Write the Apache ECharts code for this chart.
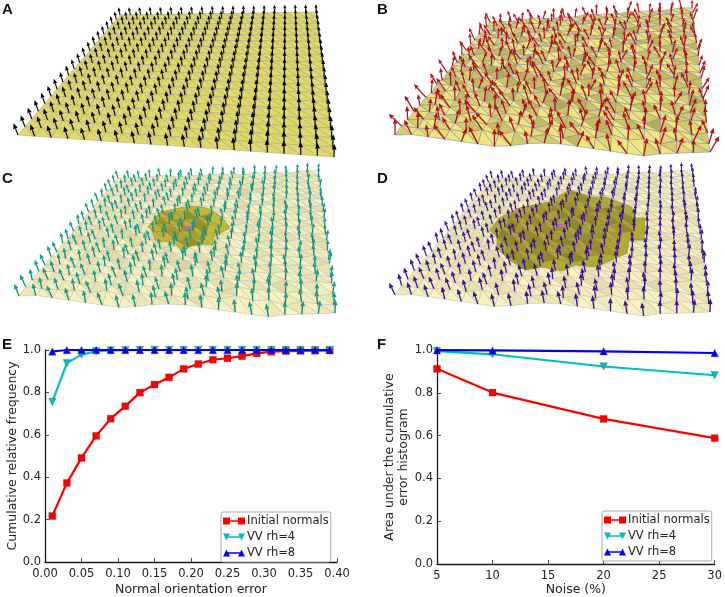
<!DOCTYPE html>
<html><head><meta charset="utf-8">
<script src="https://cdn.jsdelivr.net/npm/echarts@6/dist/echarts.min.js"></script>
<style>html,body{margin:0;padding:0;background:#fff}#c{width:725px;height:597px}</style>
</head><body><div id="c"></div>
<script>
// ---- panel E data
const errorBins=[0.01,0.03,0.05,0.07,0.09,0.11,0.13,0.15,0.17,0.19,0.21,0.23,0.25,0.27,0.29,0.31,0.33,0.35,0.37,0.39];
const eInitial=[0.217,0.373,0.491,0.595,0.676,0.735,0.799,0.837,0.871,0.911,0.934,0.954,0.961,0.971,0.984,0.992,0.995,0.996,0.997,0.998];
const eRh4=[0.755,0.938,0.978,0.994,0.998,0.999,1,1,1,1,1,1,1,1,1,1,1,1,1,1];
const eRh8=[0.993,1,1,1,1,1,1,1,1,1,1,1,1,1,1,1,1,1,1,1];
// ---- panel F data
const noiseLevels=[5,10,20,30];
const fInitial=[0.912,0.801,0.678,0.588];
const fRh4=[0.995,0.98,0.923,0.882];
const fRh8=[0.999,0.998,0.994,0.986];
// ---- meshes A-D: surface height of every vertex (back row first), 5 = flat
const surfaceHeight=[
"55456545465546554565","55565466545665456556","54665446566446547465","65446566446564657446",
"56657445665448566453","64465763457675447566","56463576465347673546","65746456724665465476",
"46465674563765646457","65463767446568456475","56747465673465747465","47465847465674465747",
"65736473658374656465","46657465747465476574","65474756475746465658","56476474749464657464",
"66457475647475637576","56646475364637564635","65554636353647452544","56543212455432102345"];
// initial normals (B): sideways lean and upward reach per vertex
const leanXB=[
"36472864736528465735","63827465193746285649","47291856473829164758","82646375918264735162",
"35718264957361849273","69273548162975348261","28465917362849175364","74183659274816395728",
"46929173648259371846","83175462938174629357","29648371569283746158","64817293465718293647",
"37592846173946285719","82469173582647193568","15738264917352846972","69284715368291746385",
"38471649257481362974","72695138462971358642","18937264895173628497","84629371586924173859"];
const reachB=[
"76867687768678767686","87678768678768767867","68787678867687768678","77686887678876867768",
"86777687868767786877","78687867767886778687","67878768687767868776","86768778767868677887",
"78687667886776867768","67877868678687768876","88676787767878687667","76887678687767886777",
"68767887768678767886","87686767887767868677","76878678767886777687","68767886678768867778",
"87686777868677687867","76778687768867868776","68867767877687778687","87676887678768687767"];
// refined normals: sideways lean per vertex (C: rh=4, D: rh=8)
const leanC=[
"45564655465645564656","56456465546456545645","46545654655465645564","55464565456546456546",
"64556456546455646455","45646545655645546564","56455646456546654545","46564556545645456656",
"55465645646455564546","64546556455646545655","46655464564556456464","55456646455465645546",
"64564555646546456655","45546464555646556446","56655645464555464656","46456556546464655546",
"55645464655546456465","64456556454655646556","46564645565446556445","56456455646565445665"];
const leanD=[
"55455645545655456554","45564556455465545645","55645455564554654555","64555465455645556454",
"45546556545556455546","55654455655445564555","46555645456555465546","55464556545465556455",
"54556445565546445655","65545556455654555464","45655465545455665545","55456554655546454556",
"64555465445655546555","45546556555445654564","55654455465555465545","46555645556454556455",
"55465554465556545564","54556465555645465545","65445556546455556654","45565455654556445565"];
// raised neighbourhoods picked out in C and D (panel units)
const patchC=[[148,62],[160,47],[180,43],[192,41],[207,43],[222,52],[230,63],[213,72],[213,80],[193,78],[183,88],[175,78],[155,75],[152,65]];
const patchD=[[128,65],[137,53],[157,43],[187,37],[207,25],[230,32],[243,32],[270,42],[272,53],[283,53],[282,75],[267,75],[265,88],[250,95],[233,102],[213,100],[200,106],[180,102],[163,105],[147,95],[135,83],[135,72]];
const seedC=[[182,60],[188,62],[194,61],[192,64],[186,64],[182,60]];
const seedD=[[195,60],[201,59],[206,62],[200,63],[195,60]];
// panel corners: back-left, back-right, front-right, front-left
const cornersA=[[120,15],[316,12],[334,157],[18,135]];
const cornersB=[[128,22],[330,8],[348,152],[33,135]];
const cornersC=[[118,13],[318,6],[335,148],[19,131]];
const cornersD=[[130,13],[330,6],[348,147],[33,130]];

const N=20, DEPTH=0.69;
function surfaceMap(q){
  const lerp=(a,b,t)=>[a[0]+(b[0]-a[0])*t,a[1]+(b[1]-a[1])*t];
  return (u,v)=>{const t=DEPTH*v+(1-DEPTH)*v*v;return lerp(lerp(q[0],q[1],u),lerp(q[3],q[2],u),t);};
}
const dig=(t,r,c)=>t[r].charCodeAt(c)-48;
function buildPanel(cfg){
  const H=surfaceMap(cfg.corners), tri=[], arrows=[], verts=[];
  const ytop=(cfg.corners[0][1]+cfg.corners[1][1])/2, ybot=(cfg.corners[2][1]+cfg.corners[3][1])/2;
  const hgt=(r,c)=>cfg.relief*(dig(surfaceHeight,r,c)-5);
  const scale=(y)=>0.6+0.4*Math.min(1,Math.max(0,(y-ytop)/(ybot-ytop)));
  for(let r=0;r<N;r++){verts.push([]);for(let c=0;c<N;c++){
    const p=H(c/(N-1),r/(N-1)),s=scale(p[1]);
    verts[r].push([p[0],p[1]-hgt(r,c)*s,s]);
  }}
  const G=cfg.gain||0;
  for(let r=0;r<N-1;r++)for(let c=0;c<N-1;c++){
    const a=verts[r][c],b=verts[r][c+1],d=verts[r+1][c],e=verts[r+1][c+1];
    const h0=hgt(r,c),h1=hgt(r,c+1),h2=hgt(r+1,c),h3=hgt(r+1,c+1);
    const sh1=0.85+G*((h0-h2)-(h1-h0)*0.6), sh2=0.85+G*((h1-h3)-(h3-h2)*0.6);
    tri.push([a[0],a[1],b[0],b[1],e[0],e[1],sh1]);
    tri.push([a[0],a[1],e[0],e[1],d[0],d[1],sh2]);
  }
  const vx=cfg.corners[1][0]-5, vy=900;
  for(let r=0;r<N;r++)for(let c=0;c<N;c++){
    const [x,y,s]=verts[r][c];
    const len=cfg.len*s, reach=cfg.reach?dig(cfg.reach,r,c)/7:1;
    const dx0=x-vx,dy0=y-vy,dl=Math.hypot(dx0,dy0);
    const lean=cfg.lean?(dig(cfg.lean,r,c)-5)*cfg.leanAmp*s:0;
    arrows.push([x,y,x+dx0/dl*len*reach+lean,y+dy0/dl*len*reach,s]);
  }
  return {tri,arrows};
}
function inside(pt,poly){let o=false;for(let i=0,j=poly.length-1;i<poly.length;j=i++){
  const [xi,yi]=poly[i],[xj,yj]=poly[j];
  if((yi>pt[1])!==(yj>pt[1])&&pt[0]<(xj-xi)*(pt[1]-yi)/(yj-yi)+xi)o=!o;}return o;}
function mix(a,b,t){t=Math.max(0,Math.min(1,t));const f=(s,i)=>parseInt(s.substr(1+2*i,2),16);
  return 'rgb('+[0,1,2].map(i=>Math.round(f(a,i)+(f(b,i)-f(a,i))*t)).join(',')+')';}

const panels=[
 {id:'A',corners:cornersA,relief:0,len:13,light:'#E0D868',dark:'#E0D868',line:'#B0AB80',arrow:'#111111',tip:'#000000'},
 {id:'B',corners:cornersB,relief:1.5,gain:0.1,len:16,reach:reachB,lean:leanXB,leanAmp:2.2,light:'#EFE67E',dark:'#B4AB52',line:'#8A8CA0',arrow:'#A5121C',tip:'#B81018'},
 {id:'C',corners:cornersC,relief:1.5,gain:0.07,len:13.5,lean:leanC,leanAmp:1.6,light:'#F7F2BE',dark:'#D8D199',line:'#C2C1B8',arrow:'#0E8577',tip:'#12A08E',patch:patchC,seed:seedC,pl:'#C2B83A',pd:'#8F8720'},
 {id:'D',corners:cornersD,relief:1.5,gain:0.07,len:13.5,lean:leanD,leanAmp:1.2,light:'#F7F2BE',dark:'#D8D199',line:'#C2C1B8',arrow:'#3A118F',tip:'#3A118F',patch:patchD,seed:seedD,pl:'#B3AA34',pd:'#86801F'}
];
const panelGrids=[{left:0,top:0,width:362,height:165},{left:362,top:0,width:362,height:165},{left:0,top:165,width:362,height:165},{left:362,top:165,width:362,height:165}];

const series=[],grid=[],xAxis=[],yAxis=[];
panels.forEach((p,idx)=>{
  grid.push(panelGrids[idx]);
  xAxis.push({type:'value',show:false,gridIndex:idx,min:0,max:362});
  yAxis.push({type:'value',show:false,gridIndex:idx,min:0,max:165,inverse:true});
  const m=buildPanel(p), base={type:'custom',xAxisIndex:idx,yAxisIndex:idx,silent:true,clip:false,progressive:0,animation:false};
  const triangle=(fill)=>(params,api)=>{
    const pts=[0,2,4].map(k=>api.coord([api.value(k),api.value(k+1)]));
    return {type:'polygon',shape:{points:pts},style:{fill:fill(api.value(6)),stroke:p.line,lineWidth:0.6}};
  };
  series.push(Object.assign({},base,{name:p.id+' mesh',data:m.tri,encode:{x:[0,2,4],y:[1,3,5]},
    renderItem:triangle(s=>mix(p.dark,p.light,s))}));
  if(p.patch){
    series.push(Object.assign({},base,{name:p.id+' patch',data:[[0,0]],encode:{x:0,y:1},
      renderItem:(params,api)=>({type:'polygon',shape:{points:p.patch.map(q=>api.coord(q))},style:{fill:p.pl,stroke:'#8d8628',lineWidth:0.6}})}));
    const facets=m.tri.filter(t=>inside([t[0],t[1]],p.patch)&&inside([t[2],t[3]],p.patch)&&inside([t[4],t[5]],p.patch));
    series.push(Object.assign({},base,{name:p.id+' facets',data:facets,encode:{x:[0,2,4],y:[1,3,5]},
      renderItem:(params,api)=>{
        const pts=[0,2,4].map(k=>api.coord([api.value(k),api.value(k+1)]));
        return {type:'polygon',shape:{points:pts},style:{fill:mix(p.pd,p.pl,api.value(6)-0.2),stroke:'#8f8a50',lineWidth:0.5}};
      }}));
    series.push(Object.assign({},base,{name:p.id+' seed',z:3,data:[[0,0]],encode:{x:0,y:1},
      renderItem:(params,api)=>({type:'polyline',shape:{points:p.seed.map(q=>api.coord(q))},style:{fill:'none',stroke:'#D24FC0',lineWidth:1}})}));
  }
  series.push(Object.assign({},base,{name:p.id+' normals',z:4,data:m.arrows,encode:{x:[0,2],y:[1,3]},
    renderItem:(params,api)=>{
      const a=api.coord([api.value(0),api.value(1)]),b=api.coord([api.value(2),api.value(3)]),s=api.value(4);
      const dx=b[0]-a[0],dy=b[1]-a[1],l=Math.hypot(dx,dy)||1,ux=dx/l,uy=dy/l,hl=Math.min(5*s+0.6,l),hw=2.2*s+0.2;
      const c=[b[0]-ux*hl,b[1]-uy*hl];
      return {type:'group',children:[
        {type:'line',shape:{x1:a[0],y1:a[1],x2:c[0],y2:c[1]},style:{stroke:p.arrow,lineWidth:0.9+0.4*s}},
        {type:'polygon',shape:{points:[b,[c[0]-uy*hw,c[1]+ux*hw],[c[0]+uy*hw,c[1]-ux*hw]]},style:{fill:p.tip}}
      ]};
    }}));
});

// line charts
const FONT='"DejaVu Sans",sans-serif', INK='#222';
function lineAxis(g,cfg){return Object.assign({type:'value',gridIndex:g,splitLine:{show:false},
  axisLine:{show:true,onZero:false,lineStyle:{color:'#1a1a1a',width:1.3}},
  axisTick:{show:true,inside:true,length:4,lineStyle:{color:'#1a1a1a',width:0.8}},
  axisLabel:{color:INK,fontFamily:FONT,fontSize:11.5,margin:4,hideOverlap:false,showMinLabel:true,showMaxLabel:true},
  nameLocation:'middle',nameTextStyle:{color:INK,fontFamily:FONT,fontSize:12.5}},cfg);}
grid.push({left:45,top:350,width:292,height:215},{left:437,top:350,width:280,height:214});
const xLabel=lineAxis(4).axisLabel;
xAxis.push(lineAxis(4,{min:0,max:0.4,interval:0.05,name:'Normal orientation error',nameGap:21,axisLabel:Object.assign({},xLabel,{margin:6,formatter:v=>v.toFixed(2)})}));
xAxis.push(lineAxis(5,{min:5,max:30,interval:5,name:'Noise (%)',nameGap:19,axisLabel:Object.assign({},xLabel,{margin:6})}));
yAxis.push(lineAxis(4,{min:0,max:1,interval:0.2,name:'Cumulative relative frequency',nameGap:22,axisLabel:Object.assign({},xLabel,{formatter:v=>v.toFixed(1)})}));
yAxis.push(lineAxis(5,{min:0,max:1,interval:0.2,name:'Area under the cumulative\nerror histogram',nameGap:18,nameTextStyle:{color:INK,fontFamily:FONT,fontSize:12.5,lineHeight:14},axisLabel:Object.assign({},xLabel,{formatter:v=>v.toFixed(1)})}));
const names=['Initial normals','VV rh=4','VV rh=8'];
const colors=['#FF0000','#00BFBF','#0000FF'];
const syms=['rect','triangle','triangle'];
function addLines(g,xs,sets){sets.forEach((ys,i)=>series.push({type:'line',name:names[i],xAxisIndex:g,yAxisIndex:g,
  data:xs.map((x,k)=>[x,ys[k]]),clip:false,z:5+i,symbol:syms[i],symbolSize:i==0?7:7.5,symbolRotate:i==1?180:0,showSymbol:true,
  lineStyle:{color:colors[i],width:2.2},itemStyle:{color:colors[i],borderColor:'rgba(60,60,60,0.55)',borderWidth:0.5},animation:false}));}
addLines(4,errorBins,[eInitial,eRh4,eRh8]);
addLines(5,noiseLevels,[fInitial,fRh4,fRh8]);
const icons=['path://M0 0H7V2.8H15V0H22V7H15V4.2H7V7H0Z','path://M0 0H7L3.5 7ZM3.5 2.8H18.5V4.2H3.5ZM15 0H22L18.5 7Z','path://M3.5 0L7 7H0ZM3.5 2.8H18.5V4.2H3.5ZM18.5 0L22 7H15Z'];
const legendOf=(left,top)=>({left,top,orient:'vertical',data:names.map((n,i)=>({name:n,icon:icons[i],itemStyle:{color:colors[i],borderWidth:0}})),itemWidth:22,itemHeight:7.5,itemGap:4,
  padding:[3,2,3,2],borderColor:'#aaa',borderWidth:1,borderRadius:2,backgroundColor:'#fff',selectedMode:false,z:20,
  textStyle:{color:INK,fontFamily:FONT,fontSize:11.5,padding:[0,0,0,-3]}});
const letters=[['A',2,2],['B',377,2],['C',2,171],['D',377,171],['E',2,337],['F',377,337]];
const option={animation:false,backgroundColor:'#fff',grid,xAxis,yAxis,series,legend:[legendOf(221,512),legendOf(602,511)],
  graphic:letters.map(([t,x,y])=>({type:'text',left:x,top:y,z:50,style:{text:t,fontFamily:'"Liberation Sans",Arial,sans-serif',fontWeight:'bold',fontSize:15,fill:'#111'}}))};
echarts.init(document.getElementById('c'),null,{renderer:'canvas'}).setOption(option);
</script></body></html>
